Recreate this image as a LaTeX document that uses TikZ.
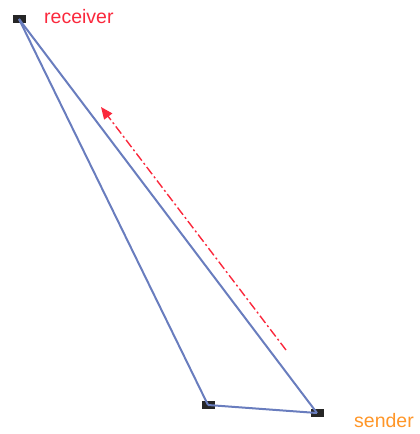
\documentclass[tikz,border=0pt]{standalone}
\usepackage{fontspec}
\setmainfont{Liberation Sans}
\usetikzlibrary{arrows.meta}
\definecolor{linkblue}{RGB}{105,125,190}
\definecolor{recvred}{RGB}{250,40,60}
\definecolor{sendorange}{RGB}{255,150,40}
\begin{document}
\begin{tikzpicture}[x=1pt,y=-1pt,
  dev/.style={draw=none,fill=black!85,minimum width=13pt,minimum height=8pt,inner sep=0pt},
  link/.style={draw=linkblue,line width=2pt},
  lbl/.style={font=\fontsize{19.5}{22}\selectfont,inner sep=0pt,anchor=west}]
\useasboundingbox (0,0) rectangle (420,434);
\node[dev] (r) at (19,19) {};
\node[dev] (m) at (208,405) {};
\node[dev] (s) at (317,413) {};
\node[lbl,text=recvred] (rl) at (44,17) {receiver};
\node[lbl,text=sendorange] (sl) at (354,421) {sender};
\draw[link] (r.center) -- (m.center);
\draw[link] (r.center) -- (s.center);
\draw[link] (m.center) -- (s.center);
\coordinate (a1) at (286,350);
\coordinate (a2) at (101,107);
\draw[recvred,line width=1.4pt,dash pattern=on 9pt off 3pt on 2pt off 3pt,-{Triangle[length=12pt,width=10pt]}] (a1) -- (a2);
\end{tikzpicture}
\end{document}
